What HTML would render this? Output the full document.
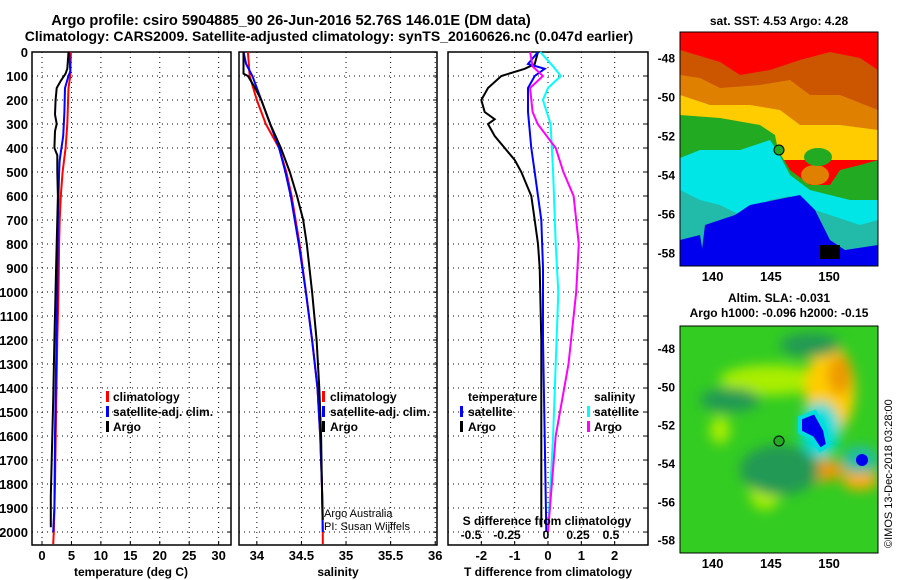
<!DOCTYPE html>
<html><head><meta charset="utf-8"><style>
body{margin:0;background:#fff;}
svg{display:block;font-family:"Liberation Sans",sans-serif;font-weight:bold;}
</style></head><body>
<svg id="fig" width="900" height="580" viewBox="0 0 900 580" xmlns="http://www.w3.org/2000/svg">
<defs>
<filter id="blur" filterUnits="userSpaceOnUse" x="600" y="250" width="350" height="350"><feGaussianBlur stdDeviation="6"/></filter>
<clipPath id="c1"><rect x="680" y="32" width="198" height="234"/></clipPath>
<clipPath id="c2"><rect x="680" y="326" width="198" height="227"/></clipPath>
</defs>
<text x="291" y="25" font-size="14.6" text-anchor="middle">Argo profile: csiro 5904885_90 26-Jun-2016 52.76S 146.01E (DM data)</text>
<text x="329" y="41" font-size="14" text-anchor="middle">Climatology: CARS2009. Satellite-adjusted climatology: synTS_20160626.nc (0.047d earlier)</text>
<g id="plots"></g>
<!-- top map -->
<g clip-path="url(#c1)">
<rect x="680" y="32" width="198" height="234" fill="#ff0000"/>
<path d="M680 50 L720 62 L740 75 L770 70 L800 60 L830 52 L860 58 L878 70 L878 145 L680 145Z" fill="#cc5500"/>
<path d="M680 75 L700 78 L720 88 L760 85 L790 80 L810 95 L840 95 L878 110 L878 150 L680 150Z" fill="#e08000"/>
<path d="M680 95 L710 105 L750 105 L780 110 L800 125 L840 125 L878 130 L878 160 L680 160Z" fill="#ffcc00"/>
<path d="M680 115 L720 118 L760 125 L775 135 L778 150 L790 170 L810 185 L830 185 L840 170 L860 165 L878 160 L878 266 L680 266Z" fill="#22aa22"/>
<path d="M680 158 L700 150 L740 150 L770 140 L778 152 L790 175 L810 190 L830 195 L850 200 L878 200 L878 266 L680 266Z" fill="#00e5e5"/>
<path d="M680 190 L700 200 L720 205 L740 215 L770 200 L790 196 L800 205 L830 215 L860 225 L878 220 L878 266 L680 266Z" fill="#22bbaa"/>
<path d="M705 225 L735 215 L750 205 L775 200 L800 195 L815 210 L830 240 L845 250 L878 245 L878 266 L700 266Z" fill="#0000ee"/>
<path d="M680 240 L700 235 L705 266 L680 266Z" fill="#0000ee"/>
<rect x="820" y="245" width="20" height="14" fill="#000"/>
<ellipse cx="815" cy="175" rx="14" ry="10" fill="#e08000"/>
<ellipse cx="818" cy="157" rx="14" ry="9" fill="#22aa22"/>
</g>
<rect x="680" y="32" width="198" height="234" fill="none" stroke="#000"/>
<circle cx="779" cy="150" r="5" fill="#22aa22" stroke="#000"/>
<text x="779" y="25" font-size="12" text-anchor="middle">sat. SST: 4.53 Argo: 4.28</text>
<!-- bottom map -->
<g clip-path="url(#c2)">
<rect x="680" y="326" width="198" height="227" fill="#33cc22"/>
<g filter="url(#blur)">
<ellipse cx="770" cy="380" rx="50" ry="15" fill="#aaee00"/>
<ellipse cx="830" cy="390" rx="25" ry="45" fill="#ffcc00"/>
<ellipse cx="840" cy="375" rx="12" ry="20" fill="#ee9900"/>
<ellipse cx="730" cy="400" rx="30" ry="12" fill="#229955"/>
<ellipse cx="810" cy="345" rx="30" ry="12" fill="#229955"/>
<ellipse cx="815" cy="470" rx="30" ry="12" fill="#ee9900"/>
<ellipse cx="860" cy="480" rx="18" ry="10" fill="#ffaa00"/>
<ellipse cx="765" cy="490" rx="16" ry="20" fill="#aaee00"/>
<ellipse cx="720" cy="430" rx="10" ry="14" fill="#aaee00"/>
<ellipse cx="780" cy="470" rx="40" ry="25" fill="#229955"/>
<ellipse cx="860" cy="460" rx="18" ry="14" fill="#22bbaa"/>
<ellipse cx="820" cy="430" rx="20" ry="28" fill="#00dddd"/>
</g>
<path d="M800 418 L815 412 L825 430 L828 445 L820 450 L812 438 L800 432Z" fill="#0000ee" stroke="#00dddd" stroke-width="4"/>
<ellipse cx="862" cy="460" rx="6" ry="6" fill="#0000ee"/>
</g>
<rect x="680" y="326" width="198" height="227" fill="none" stroke="#000"/>
<circle cx="779" cy="441" r="5" fill="#22aa22" stroke="#000"/>
<text x="779" y="302" font-size="12" text-anchor="middle">Altim. SLA: -0.031</text>
<text x="779" y="317" font-size="12" text-anchor="middle">Argo h1000: -0.096 h2000: -0.15</text>
<text transform="translate(892,548) rotate(-90)" font-size="11" font-weight="normal">©IMOS 13-Dec-2018 03:28:00</text>
<text x="324" y="517" font-size="11" font-weight="normal">Argo Australia</text>
<text x="324" y="530" font-size="11" font-weight="normal">PI: Susan Wijffels</text>
</svg>
<script>
// ---- data ----
const depthTicks=[0,100,200,300,400,500,600,700,800,900,1000,1100,1200,1300,1400,1500,1600,1700,1800,1900,2000];
const tempTicks=[0,5,10,15,20,25,30];
const salTicks=[34,34.5,35,35.5,36];
const dTTicks=[-2,-1,0,1,2];
const dSLabels=["-0.5","-0.25","0","0.25","0.5"];
const dSValues=[-0.5,-0.25,0,0.25,0.5];
const latTicks=[-48,-50,-52,-54,-56,-58];
const lonTicks=[140,145,150];

const climTDepth=[0,100,150,300,400,500,600,700,800,1000,1200,1500,1800,2000,2050];
const climT=[4.9,4.8,4.5,4.3,4.0,3.5,3.2,3.0,2.9,2.8,2.6,2.4,2.2,2.0,1.9];
const satTDepth=[0,80,100,150,250,350,450,500,700,1000,1300,1600,1900,2000];
const satT=[4.6,4.8,4.5,3.9,3.8,3.6,3.0,2.9,2.7,2.6,2.4,2.2,2.1,1.9];
const argoTDepth=[0,70,90,120,150,200,260,300,330,400,430,500,600,700,900,1200,1450,1650,1850,1980];
const argoT=[4.5,4.3,4.0,3.2,2.5,2.3,2.2,2.5,2.2,2.1,2.6,2.6,2.7,2.6,2.4,2.1,1.9,1.7,1.5,1.5];

const salDepth=[0,100,200,300,400,500,600,800,1000,1200,1400,1600,1800,2000,2050];
const climS=[33.9,33.92,34.0,34.1,34.25,34.33,34.39,34.48,34.55,34.62,34.68,34.71,34.73,34.74,34.74];
const satSDepth=[0,50,100,200,300,400,500,600,800,1000,1200,1400,1600,1800,2000];
const satS=[33.85,33.88,33.95,34.05,34.15,34.25,34.32,34.38,34.47,34.55,34.62,34.68,34.71,34.73,34.74];
const argoSDepth=[0,90,100,150,200,300,400,500,600,700,800,1000,1200,1400,1600,1800,1950];
const argoS=[33.85,33.85,33.9,33.98,34.05,34.15,34.27,34.37,34.45,34.52,34.56,34.62,34.67,34.7,34.72,34.73,34.74];

const dTArgoDepth=[0,50,70,100,150,200,250,280,300,350,400,450,500,600,700,800,900,1200,1500,1980];
const dTArgo=[-0.3,-0.4,-0.7,-1.4,-1.8,-2.0,-1.9,-1.6,-1.8,-1.6,-1.3,-1.0,-0.8,-0.5,-0.4,-0.3,-0.25,-0.2,-0.2,-0.2];
const dTSatDepth=[0,50,70,100,150,250,400,500,700,900,1200,1600,2000];
const dTSat=[-0.3,-0.6,-0.1,-0.4,-0.6,-0.6,-0.5,-0.4,-0.2,-0.15,-0.15,-0.1,-0.05];
const dSSatDepth=[0,60,100,150,200,300,500,800,1000,1300,1600,2000];
const dSSat=[-0.03,0.02,0.05,0.0,-0.02,0.01,0.02,0.03,0.04,0.03,0.02,0.0];
const dSArgoDepth=[0,60,100,150,250,300,400,500,600,800,1000,1300,1600,2000];
const dSArgo=[-0.07,-0.06,-0.02,-0.07,-0.06,-0.04,0.03,0.06,0.1,0.12,0.11,0.08,0.03,0.0];

// ---- axes ----
const NS="http://www.w3.org/2000/svg";
const g=document.getElementById('plots');
const Y0=52,Y1=545,DMAX=2054;
const yD=d=>Y0+(Y1-Y0)*d/DMAX;
function lin(d0,d1,p0,p1){return v=>p0+(v-d0)*(p1-p0)/(d1-d0);}
const xT=lin(-1.7,32.1,32,231);
const xS=lin(33.8,36.02,239,437);
const xdT=lin(-3,3,448,648);
const xdS=lin(-0.39,0.39,448,648);
function el(tag,attrs,parent){const e=document.createElementNS(NS,tag);for(const k in attrs)e.setAttribute(k,attrs[k]);(parent||g).appendChild(e);return e;}

function panel(name,x0,x1,xs,ticks,fmt,showDepthLabels){
  const pg=el('g',{});
  
  
  depthTicks.forEach(d=>{
    const ln=el('line',{x1:x0,x2:x1,y1:yD(d),y2:yD(d),stroke:'#000','stroke-dasharray':'1,4'},pg);
    
    
    el('line',{x1:x1-4,x2:x1,y1:yD(d),y2:yD(d),stroke:'#000'},pg);
    if(showDepthLabels){
      const t=el('text',{x:x0-4,y:yD(d)+5,'font-size':13,'text-anchor':'end'},pg);
      
      
      t.textContent=d;
    }
  });
  ticks.forEach(v=>{
    const ln=el('line',{x1:xs(v),x2:xs(v),y1:Y0,y2:Y1,stroke:'#000','stroke-dasharray':'1,4'},pg);
    
    
    el('line',{x1:xs(v),x2:xs(v),y1:Y1-4,y2:Y1,stroke:'#000'},pg);
    const t=el('text',{x:xs(v),y:Y1+15,'font-size':13,'text-anchor':'middle'},pg);
    
    
    t.textContent=fmt(v);
  });
  const r=el('rect',{x:x0,y:Y0,width:x1-x0,height:Y1-Y0,fill:'none',stroke:'#000','stroke-width':1.5},pg);
  
  
  return pg;
}
function series(name,depths,vals,xs,color,parent){
  const pts=depths.map((d,i)=>xs(vals[i]).toFixed(1)+','+yD(d).toFixed(1)).join(' ');
  const p=el('polyline',{points:pts,fill:'none',stroke:color,'stroke-width':2},parent);
  
  
}
function text(name,x,y,s,anchor){
  const t=el('text',{x:x,y:y,'font-size':12,'text-anchor':anchor||'start'});
  
  
  t.textContent=s;
}
function legendMark(name,x,y,color){
  const r=el('rect',{x:x,y:y-10,width:3,height:11,fill:color});
  
  
}

const p1=panel('temperature-panel',32,231,xT,tempTicks,v=>v,true);
series('temperature-climatology-line',climTDepth,climT,xT,'#ff0000',p1);
series('temperature-satellite-line',satTDepth,satT,xT,'#0000ff',p1);
series('temperature-argo-line',argoTDepth,argoT,xT,'#000000',p1);
text('temperature-x-axis-title',131,576,'temperature (deg C)','middle');

const p2=panel('salinity-panel',239,437,xS,salTicks,v=>v,false);
series('salinity-climatology-line',salDepth,climS,xS,'#ff0000',p2);
series('salinity-satellite-line',satSDepth,satS,xS,'#0000ff',p2);
series('salinity-argo-line',argoSDepth,argoS,xS,'#000000',p2);
text('salinity-x-axis-title',338,576,'salinity','middle');

const p3=panel('difference-panel',448,648,xdT,dTTicks,v=>v,false);
series('temperature-diff-argo-line',dTArgoDepth,dTArgo,xdT,'#000000',p3);
series('temperature-diff-satellite-line',dTSatDepth,dTSat,xdT,'#0000ff',p3);
series('salinity-diff-satellite-line',dSSatDepth,dSSat,xdS,'#00ffff',p3);
series('salinity-diff-argo-line',dSArgoDepth,dSArgo,xdS,'#ff00ff',p3);
text('t-diff-x-axis-title',548,576,'T difference from climatology','middle');
text('s-diff-axis-title',547,525,'S difference from climatology','middle');
const sPos=[471,507,546,578,611];
dSLabels.forEach((s,i)=>{
  const t=el('text',{x:sPos[i],y:539,'font-size':12,'text-anchor':'middle'});
  
  
  t.textContent=s;
});

// legends
legendMark('legend-mark-climatology',106,401,'#ff0000');text('legend-climatology',113,401,'climatology');
legendMark('legend-mark-satellite',106,416,'#0000ff');text('legend-satellite-adj',113,416,'satellite-adj. clim.');
legendMark('legend-mark-argo',106,431,'#000');text('legend-argo',113,431,'Argo');
legendMark('legend-mark-climatology-s',322,401,'#ff0000');text('legend-climatology-s',330,401,'climatology');
legendMark('legend-mark-satellite-s',322,416,'#0000ff');text('legend-satellite-adj-s',330,416,'satellite-adj. clim.');
legendMark('legend-mark-argo-s',322,431,'#000');text('legend-argo-s',330,431,'Argo');
text('legend-temperature-header',468,401,'temperature');
legendMark('legend-mark-t-sat',460,416,'#0000ff');text('legend-t-satellite',468,416,'satellite');
legendMark('legend-mark-t-argo',460,431,'#000');text('legend-t-argo',468,431,'Argo');
text('legend-salinity-header',594,401,'salinity');
legendMark('legend-mark-s-sat',587,416,'#00ffff');text('legend-s-satellite',594,416,'satellite');
legendMark('legend-mark-s-argo',587,431,'#ff00ff');text('legend-s-argo',594,431,'Argo');

// map axes
const lonX=lin(137.2,154.2,680,878);
const latYTop=lin(-46.7,-58.7,32,266);
const latYBot=lin(-46.85,-58.7,326,553);
[[latYTop,32,266],[latYBot,326,553]].forEach(([ly,t0,t1],mi)=>{
  latTicks.forEach(v=>{
    el('line',{x1:680,x2:684,y1:ly(v),y2:ly(v),stroke:'#000'});
    el('line',{x1:874,x2:878,y1:ly(v),y2:ly(v),stroke:'#000'});
    const t=el('text',{x:675,y:ly(v)+5,'font-size':12,'text-anchor':'end'});
    
    
    t.textContent=v;
  });
  lonTicks.forEach(v=>{
    el('line',{x1:lonX(v),x2:lonX(v),y1:t0,y2:t0+4,stroke:'#000'});
    el('line',{x1:lonX(v),x2:lonX(v),y1:t1-4,y2:t1,stroke:'#000'});
    const t=el('text',{x:lonX(v),y:t1+15,'font-size':13,'text-anchor':'middle'});
    
    
    t.textContent=v;
  });
});
</script>
</body></html>
